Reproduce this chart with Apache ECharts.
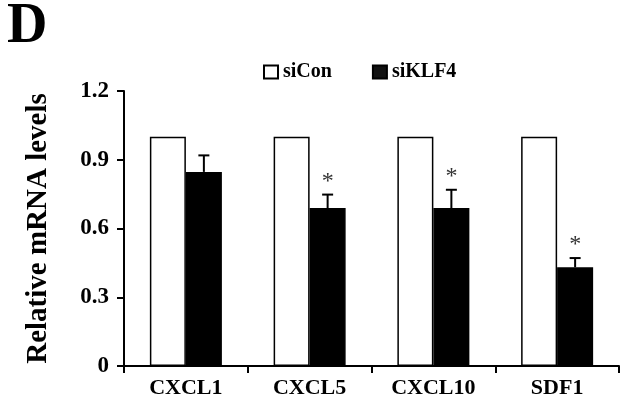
<!DOCTYPE html>
<html><head><meta charset="utf-8">
<script src="https://cdn.jsdelivr.net/npm/echarts@6/dist/echarts.min.js"></script>
<style>html,body{margin:0;padding:0;background:#fff}#c{width:629px;height:406px}</style>
</head><body><div id="c"></div>
<script>
const categories = ['CXCL1', 'CXCL5', 'CXCL10', 'SDF1'];
const siCon = [1.0, 1.0, 1.0, 1.0];
const siKLF4 = [0.847, 0.689, 0.689, 0.431];
const siKLF4Err = [0.072, 0.059, 0.080, 0.040];
const significant = [false, true, true, true];
const yTicks = [0, 0.3, 0.6, 0.9, 1.2];

const FONT = '"Liberation Serif", "Times New Roman", serif';
const BAR_W = 36;

const chart = echarts.init(document.getElementById('c'), null, {renderer: 'canvas'});
chart.setOption({
  animation: false,
  backgroundColor: '#fff',
  title: {
    text: 'D', left: 7, top: 0, padding: 0,
    textStyle: {fontFamily: FONT, fontWeight: 'bold', fontSize: 56, color: '#000'}
  },
  legend: {
    left: 263, top: 62, padding: 0, itemWidth: 14, itemHeight: 13, itemGap: 40,
    icon: 'rect',
    textStyle: {fontFamily: FONT, fontWeight: 'bold', fontSize: 20, color: '#000'},
    data: [
      {name: 'siCon', itemStyle: {color: '#fff', borderColor: '#000', borderWidth: 2}},
      {name: 'siKLF4', itemStyle: {color: '#111', borderColor: '#000', borderWidth: 2}}
    ]
  },
  grid: {left: 124, right: 10, top: 91, bottom: 40},
  xAxis: {
    type: 'category', data: categories,
    axisLine: {lineStyle: {color: '#000', width: 2}},
    axisTick: {show: true, length: 7, lineStyle: {color: '#000', width: 2}},
    axisLabel: {fontFamily: FONT, fontWeight: 'bold', fontSize: 22, color: '#000', margin: 11}
  },
  yAxis: {
    type: 'value', min: yTicks[0], max: yTicks[yTicks.length - 1], interval: 0.3,
    name: 'Relative mRNA levels', nameLocation: 'middle', nameGap: 71,
    nameTextStyle: {fontFamily: FONT, fontWeight: 'bold', fontSize: 29, color: '#000'},
    axisLine: {show: true, lineStyle: {color: '#000', width: 2}},
    axisTick: {show: true, length: 7, lineStyle: {color: '#000', width: 2}},
    splitLine: {show: false},
    axisLabel: {fontFamily: FONT, fontWeight: 'bold', fontSize: 23, color: '#000', margin: 15,
      formatter: v => (v === 0 ? '0' : v.toFixed(1))}
  },
  series: [
    {
      name: 'siCon', type: 'bar', data: siCon, barWidth: BAR_W, barGap: '0%',
      itemStyle: {color: '#fff', borderColor: '#000', borderWidth: 1.5}
    },
    {
      name: 'siKLF4', type: 'bar', data: siKLF4, barWidth: BAR_W, barGap: '0%',
      itemStyle: {color: '#000', borderColor: '#000', borderWidth: 1.5}
    },
    {
      name: 'err', type: 'custom',
      data: siKLF4.map((v, i) => [i, v, siKLF4Err[i], significant[i] ? 1 : 0]),
      renderItem: function (params, api) {
        const i = api.value(0);
        const base = api.coord([i, api.value(1)]);
        const top = api.coord([i, api.value(1) + api.value(2)]);
        const x = base[0] + BAR_W / 2;
        const children = [
          {type: 'line', shape: {x1: x, y1: base[1], x2: x, y2: top[1]}, style: {stroke: '#000', lineWidth: 2}},
          {type: 'line', shape: {x1: x - 5.5, y1: top[1], x2: x + 5.5, y2: top[1]}, style: {stroke: '#000', lineWidth: 2}}
        ];
        if (api.value(3)) {
          children.push({type: 'text', x: x, y: top[1] - 13,
            style: {text: '*', fontFamily: FONT, fontSize: 24, fill: '#333', align: 'center', verticalAlign: 'middle'}});
        }
        return {type: 'group', children: children};
      },
      z: 5
    }
  ]
});
</script></body></html>
